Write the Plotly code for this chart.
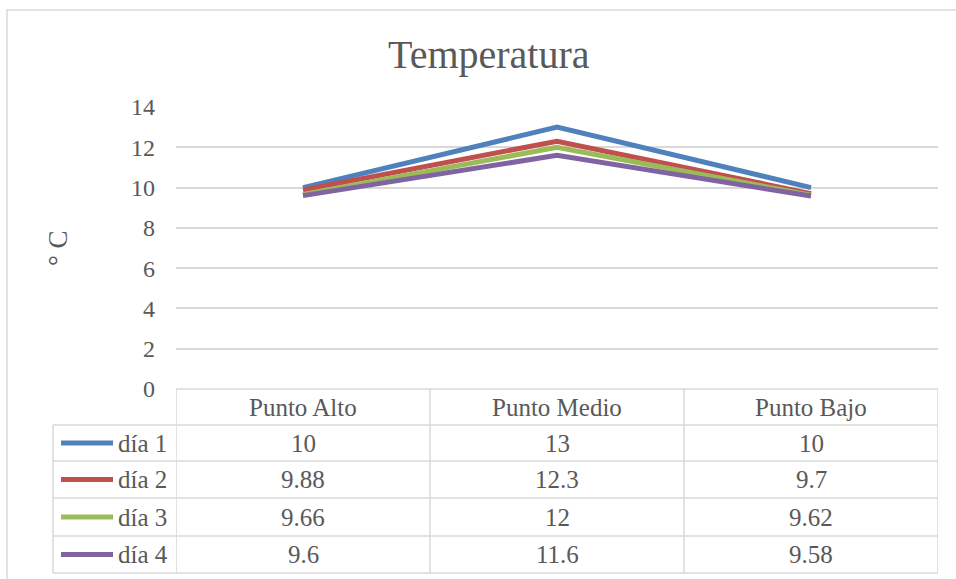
import plotly.graph_objects as go

# Data
categories = ["Punto Alto", "Punto Medio", "Punto Bajo"]
series_names = ["día 1", "día 2", "día 3", "día 4"]
dia1 = [10, 13, 10]
dia2 = [9.88, 12.3, 9.7]
dia3 = [9.66, 12, 9.62]
dia4 = [9.6, 11.6, 9.58]
series_values = [dia1, dia2, dia3, dia4]
value_labels = [["10", "13", "10"],
                ["9.88", "12.3", "9.7"],
                ["9.66", "12", "9.62"],
                ["9.6", "11.6", "9.58"]]
colors = ["#4F81BD", "#C0504D", "#9BBB59", "#8064A2"]
y_ticks = [0, 2, 4, 6, 8, 10, 12, 14]

W, H = 956, 579
FONT = "Liberation Serif"
TXT = "#595959"
GRID = "#D9D9D9"


def px(x):
    return x / W


def py(y):
    return 1 - y / H


x_pos = list(range(len(categories)))

fig = go.Figure()
for name, vals, col in zip(series_names, series_values, colors):
    fig.add_trace(go.Scatter(
        x=x_pos, y=vals, name=name, mode="lines",
        line=dict(color=col, width=5),
        showlegend=False, hoverinfo="x+y",
    ))

plot_left, plot_right = 176, 938
plot_top, plot_bottom = 107, 389

fig.update_layout(
    width=W, height=H,
    margin=dict(l=0, r=0, t=0, b=0, autoexpand=False),
    paper_bgcolor="white", plot_bgcolor="white",
    font=dict(family=FONT, color=TXT),
    xaxis=dict(domain=[px(plot_left), px(plot_right)], range=[-0.5, 2.5],
               showticklabels=False, showgrid=False, zeroline=False,
               showline=False, fixedrange=True, automargin=False),
    yaxis=dict(domain=[py(plot_bottom), py(plot_top)], range=[0, 14],
               tickvals=y_ticks, ticktext=[str(v) for v in y_ticks],
               tickfont=dict(size=24, color=TXT, family=FONT),
               showgrid=True, gridcolor=GRID, gridwidth=1.5,
               zeroline=False, showline=False, ticks="",
               ticklabelstandoff=20, fixedrange=True, automargin=False),
)

shapes = []
annotations = []

# Outer chart border
shapes.append(dict(type="rect", xref="paper", yref="paper",
                   x0=px(7), x1=px(962), y0=py(10), y1=py(590),
                   line=dict(color=GRID, width=1.5), layer="below"))

# Title and axis title
annotations.append(dict(text="Temperatura", xref="paper", yref="paper",
                        x=px(489), y=py(54), showarrow=False,
                        font=dict(size=40, color=TXT, family=FONT),
                        xanchor="center", yanchor="middle"))
annotations.append(dict(text="° C", xref="paper", yref="paper",
                        x=px(58), y=py(248), showarrow=False, textangle=-90,
                        font=dict(size=27, color=TXT, family=FONT),
                        xanchor="center", yanchor="middle"))

# Data table
row_lines = [389, 425, 461, 498, 536, 573]
legend_left = 53
col_bounds = [i - 0.5 for i in range(len(categories) + 1)]

# horizontal lines: header spans category columns only, body spans legend column too
for i, yl in enumerate(row_lines):
    if i == 0:
        shapes.append(dict(type="line", xref="x", yref="paper",
                           x0=col_bounds[0], x1=col_bounds[-1], y0=py(yl), y1=py(yl),
                           line=dict(color=GRID, width=1.5)))
    else:
        shapes.append(dict(type="line", xref="paper", yref="paper",
                           x0=px(legend_left), x1=px(plot_right), y0=py(yl), y1=py(yl),
                           line=dict(color=GRID, width=1.5)))
# vertical lines
for cb in col_bounds:
    shapes.append(dict(type="line", xref="x", yref="paper",
                       x0=cb, x1=cb, y0=py(row_lines[0]), y1=py(row_lines[-1]),
                       line=dict(color=GRID, width=1.5)))
shapes.append(dict(type="line", xref="paper", yref="paper",
                   x0=px(legend_left), x1=px(legend_left),
                   y0=py(row_lines[1]), y1=py(row_lines[-1]),
                   line=dict(color=GRID, width=1.5)))

# header labels
hdr_y = (row_lines[0] + row_lines[1]) / 2
for xi, cat in zip(x_pos, categories):
    annotations.append(dict(text=cat, xref="x", yref="paper", x=xi, y=py(hdr_y),
                            showarrow=False, font=dict(size=25, color=TXT, family=FONT),
                            xanchor="center", yanchor="middle"))

# body rows: legend key + values
for r, (name, col, labels) in enumerate(zip(series_names, colors, value_labels)):
    yc = (row_lines[r + 1] + row_lines[r + 2]) / 2
    shapes.append(dict(type="line", xref="paper", yref="paper",
                       x0=px(61), x1=px(113), y0=py(yc), y1=py(yc),
                       line=dict(color=col, width=5)))
    annotations.append(dict(text=name, xref="paper", yref="paper", x=px(116), y=py(yc),
                            showarrow=False, font=dict(size=25, color=TXT, family=FONT),
                            xanchor="left", yanchor="middle"))
    for xi, lab in zip(x_pos, labels):
        annotations.append(dict(text=lab, xref="x", yref="paper", x=xi, y=py(yc),
                                showarrow=False, font=dict(size=25, color=TXT, family=FONT),
                                xanchor="center", yanchor="middle"))

fig.update_layout(shapes=shapes, annotations=annotations)
fig.write_html("out.html")
